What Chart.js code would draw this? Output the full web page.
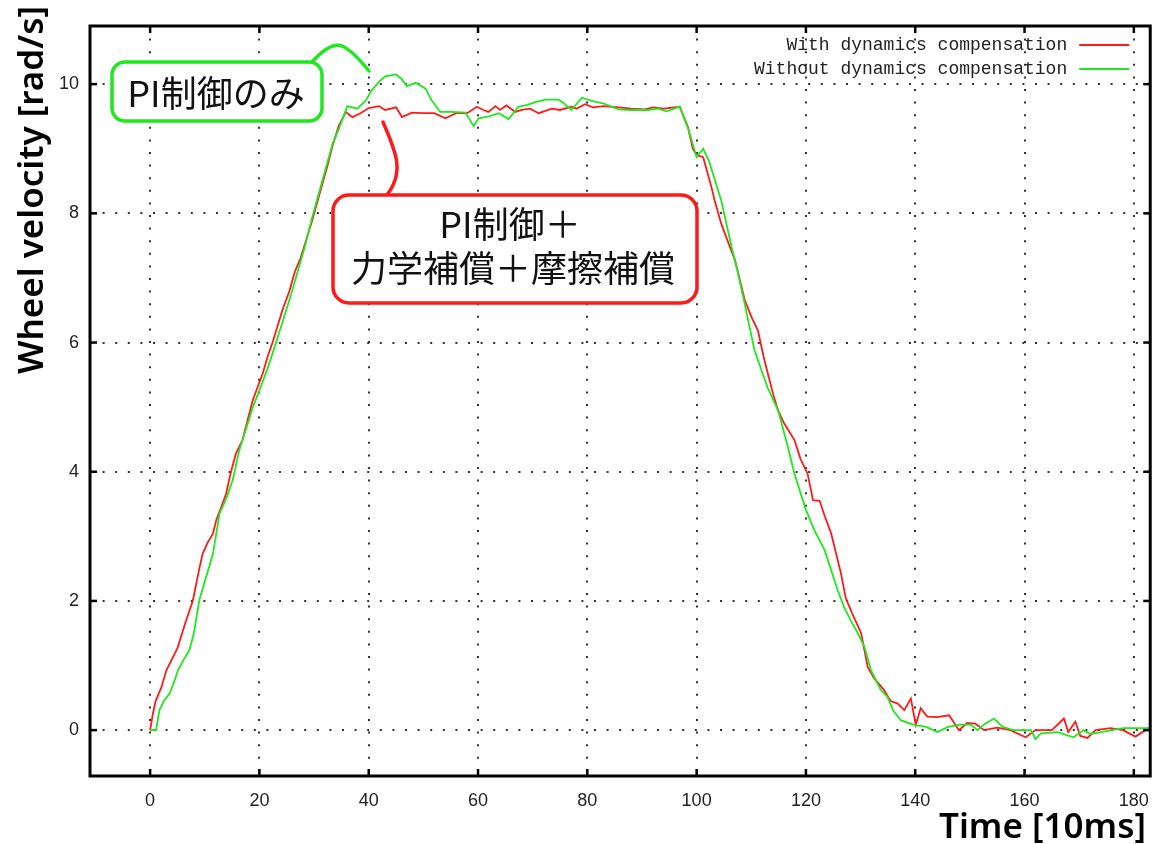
<!DOCTYPE html>
<html>
<head>
<meta charset="utf-8">
<script src="https://cdn.jsdelivr.net/npm/chart.js@4.4.0/dist/chart.umd.min.js"></script>
<style>
  html, body { margin: 0; padding: 0; background: #fff; }
  #wrap { width: 1163px; height: 844px; }
</style>
</head>
<body>
<div id="wrap"><canvas id="chart" width="1163" height="844"></canvas></div>
<script>
// tick values
const xTicks = [0, 20, 40, 60, 80, 100, 120, 140, 160, 180];
const yTicks = [0, 2, 4, 6, 8, 10];

// "With dynamics compensation" (red)
const tRed = [
  0, 0.5, 1, 2, 3, 4, 5, 6.6, 7.8, 9,
  9.6, 10.5, 11.5, 12.1, 13, 13.9, 14.8, 15.7, 16.9, 18,
  18.8, 20.6, 21.5, 22.4, 24.2, 25.5, 26.5, 27.5, 28.6, 29.7,
  30.5, 31.5, 32.5, 33.4, 34.5, 35.8, 37, 38.5, 40, 41.9,
  43, 45, 46.1, 47.9, 50, 52, 54, 56, 58, 59.8,
  61, 61.9, 63.2, 64, 65.2, 66.8, 68, 69.5, 71.1, 73.5,
  75, 77.1, 78, 79.6, 81, 83, 85.7, 88, 90.5, 92,
  94, 96.9, 98.4, 99.3, 100, 101.2, 102.7, 103.3, 104.5, 106,
  107, 108.8, 110, 111.2, 112.4, 114, 114.9, 116, 117.9, 119,
  120.3, 121.3, 122.5, 123.5, 124.6, 126.4, 127.3, 128.5, 130.1, 131.3,
  132.5, 134.3, 135.5, 136.8, 138, 139.2, 140.1, 141, 142.2, 144,
  146.2, 148, 149.5, 151, 152.6, 155, 157.4, 160.2, 162, 165,
  167.2, 168, 169.3, 170.2, 171.5, 173, 175.7, 178, 180.3, 182.1, 183
];
const vRed = [
  0, 0.25, 0.45, 0.65, 0.93, 1.1, 1.27, 1.7, 2.0, 2.5,
  2.73, 2.9, 3.04, 3.25, 3.45, 3.66, 4.0, 4.28, 4.49, 4.85,
  5.11, 5.52, 5.78, 6.0, 6.5, 6.8, 7.1, 7.3, 7.6, 7.9,
  8.15, 8.45, 8.75, 9.05, 9.35, 9.57, 9.49, 9.55, 9.63, 9.66,
  9.6, 9.64, 9.49, 9.56, 9.55, 9.55, 9.47, 9.55, 9.55, 9.65,
  9.6, 9.57, 9.66, 9.6, 9.67, 9.57, 9.6, 9.62, 9.55, 9.62,
  9.6, 9.65, 9.62, 9.69, 9.64, 9.66, 9.64, 9.62, 9.61, 9.64,
  9.62, 9.65, 9.34, 9.0, 8.9, 8.87, 8.41, 8.2, 7.84, 7.5,
  7.28, 6.66, 6.4, 6.19, 5.73, 5.2, 4.95, 4.75, 4.49, 4.2,
  3.97, 3.56, 3.55, 3.3, 3.05, 2.43, 2.04, 1.8, 1.5, 0.98,
  0.8, 0.62, 0.45, 0.41, 0.31, 0.49, 0.08, 0.34, 0.21, 0.2,
  0.23, 0.0, 0.11, 0.1, 0.0, 0.04, 0.0, -0.11, 0.0, 0.0,
  0.18, -0.03, 0.13, -0.09, -0.12, 0.0, 0.03, 0.0, -0.1, 0.0, 0.04
];

// "Without dynamics compensation" (green)
const tGreen = [
  0, 1.1, 1.7, 2.5, 3.6, 4.4, 5.1, 6.2, 7.2, 8,
  9, 10, 11.5, 12.7, 14, 15.1, 16.3, 17.5, 18.8, 20,
  21.5, 23, 24.9, 26, 27, 28.2, 29.7, 31.5, 33.4, 34.5,
  36.1, 37.9, 39.5, 40.5, 41.9, 43, 45, 46, 47, 48.6,
  50.4, 51.5, 53.1, 55, 57.7, 59.2, 60.1, 62, 63.8, 65.6,
  67.4, 69, 70.5, 72.3, 74.7, 75.5, 77.1, 79, 80.8, 83,
  85.7, 88, 91.1, 93, 94.5, 96.9, 98.5, 100, 101.2, 102.3,
  104.5, 106.4, 107.5, 108.8, 109.4, 110.6, 111.2, 113, 114.9, 116.5,
  117.9, 120, 121.5, 123.4, 125.8, 127, 128.2, 129.5, 130.7, 131.9,
  133.7, 134.9, 136, 137.4, 139.8, 142, 144.1, 146, 148, 150.1,
  151.4, 152.8, 154.4, 156, 158, 160, 161.2, 162, 163, 166,
  169, 170.8, 172, 174, 176, 178.1, 180, 183
];
const vGreen = [
  0, 0, 0.31, 0.45, 0.57, 0.75, 0.93, 1.1, 1.24, 1.5,
  2.01, 2.3, 2.73, 3.35, 3.6, 3.87, 4.33, 4.65, 5.0, 5.26,
  5.6, 5.99, 6.5, 6.8, 7.1, 7.45, 7.95, 8.5, 9.08, 9.3,
  9.66, 9.62, 9.75, 9.9, 10.04, 10.12, 10.15, 10.08, 9.97, 10.02,
  9.93, 9.75, 9.57, 9.57, 9.56, 9.35, 9.47, 9.5, 9.55, 9.46,
  9.65, 9.68, 9.72, 9.76, 9.76, 9.72, 9.6, 9.79, 9.74, 9.7,
  9.61, 9.6, 9.6, 9.62, 9.58, 9.65, 9.3, 8.87, 9.0, 8.8,
  8.2, 7.48, 7.1, 6.6, 6.35, 5.88, 5.73, 5.3, 4.95, 4.45,
  3.97, 3.41, 3.1, 2.79, 2.17, 1.9, 1.7, 1.5, 1.29, 0.93,
  0.62, 0.52, 0.3, 0.15, 0.08, 0.05, -0.03, 0.05, 0.08, 0.09,
  0.0, 0.1, 0.18, 0.05, 0.0, 0.0, 0.0, -0.14, -0.05, -0.03,
  -0.11, 0.0, -0.06, -0.03, 0.0, 0.03, 0.03, 0.03
];

const seriesNames = ["With dynamics compensation", "Without dynamics compensation"];
const seriesColors = ["#ff1a1a", "#1ee81e"];

const toPoints = (ts, vs) => ts.map((t, i) => ({ x: t, y: vs[i] }));

// frame, inward ticks, legend, titles and callouts
const overlay = {
  id: "overlay",
  afterDraw(chart) {
    const { ctx, chartArea: a } = chart;
    const xs = chart.scales.x, ys = chart.scales.y;
    const seg = (x1, y1, x2, y2) => { ctx.beginPath(); ctx.moveTo(x1, y1); ctx.lineTo(x2, y2); ctx.stroke(); };
    ctx.save();

    ctx.strokeStyle = "#000";
    ctx.lineWidth = 3;
    ctx.strokeRect(a.left, a.top, a.right - a.left, a.bottom - a.top);
    ctx.lineWidth = 2.5;
    xTicks.forEach(v => {
      const p = xs.getPixelForValue(v);
      seg(p, a.bottom, p, a.bottom - 7);
      seg(p, a.top, p, a.top + 7);
    });
    yTicks.forEach(v => {
      const p = ys.getPixelForValue(v);
      seg(a.left, p, a.left + 7, p);
      seg(a.right, p, a.right - 7, p);
    });

    // legend (gnuplot style: text then sample line)
    ctx.font = "18px 'Liberation Mono'";
    ctx.textAlign = "right";
    ctx.textBaseline = "middle";
    seriesNames.forEach((name, i) => {
      const yy = a.top + 19 + i * 24;
      ctx.fillStyle = "#222";
      ctx.fillText(name, a.right - 83, yy);
      ctx.strokeStyle = seriesColors[i];
      ctx.lineWidth = 2;
      seg(a.right - 71, yy, a.right - 21, yy);
    });

    // axis titles
    ctx.fillStyle = "#000";
    ctx.font = "600 35px 'Noto Sans'";
    ctx.textBaseline = "alphabetic";
    ctx.textAlign = "right";
    ctx.fillText("Time [10ms]", 1146, 838);
    ctx.save();
    ctx.translate(43, 190);
    ctx.rotate(-Math.PI / 2);
    ctx.textAlign = "center";
    ctx.fillText("Wheel velocity [rad/s]", 0, 0);
    ctx.restore();

    // callouts
    const box = (x, y, w, h, r, color) => {
      ctx.beginPath();
      ctx.roundRect(x, y, w, h, r);
      ctx.fillStyle = "#fff";
      ctx.fill();
      ctx.strokeStyle = color;
      ctx.lineWidth = 3.5;
      ctx.stroke();
    };
    ctx.lineCap = "round";

    ctx.strokeStyle = "#1ee81e";
    ctx.lineWidth = 3.5;
    ctx.beginPath();
    ctx.moveTo(312, 62);
    ctx.quadraticCurveTo(330, 42, 342, 46);
    ctx.quadraticCurveTo(352, 50, 369, 71);
    ctx.stroke();
    box(112, 62, 210, 59, 13, "#1ee81e");

    ctx.strokeStyle = "#ff1a1a";
    ctx.beginPath();
    ctx.moveTo(383, 122);
    ctx.bezierCurveTo(395, 150, 406, 172, 386, 196);
    ctx.stroke();
    box(333, 195, 364, 108, 16, "#ff1a1a");

    ctx.fillStyle = "#111";
    ctx.font = "36px 'Noto Sans CJK JP'";
    ctx.textAlign = "center";
    ctx.textBaseline = "middle";
    ctx.fillText("PI制御のみ", 216, 93);
    ctx.fillText("PI制御＋", 510, 224);
    ctx.fillText("力学補償＋摩擦補償", 513, 268);

    ctx.restore();
  }
};

const tickFont = { family: "'Liberation Sans', sans-serif", size: 18 };

new Chart(document.getElementById("chart").getContext("2d"), {
  type: "line",
  data: {
    datasets: [
      {
        label: seriesNames[0],
        data: toPoints(tRed, vRed),
        borderColor: seriesColors[0],
        borderWidth: 1.8,
        pointRadius: 0,
        tension: 0,
        order: 1
      },
      {
        label: seriesNames[1],
        data: toPoints(tGreen, vGreen),
        borderColor: seriesColors[1],
        borderWidth: 1.8,
        pointRadius: 0,
        tension: 0,
        order: 0
      }
    ]
  },
  options: {
    responsive: false,
    animation: false,
    devicePixelRatio: 1,
    layout: { padding: { top: 26, right: 10, left: 0, bottom: 0 } },
    plugins: { legend: { display: false }, tooltip: { enabled: false } },
    scales: {
      x: {
        type: "linear",
        min: -11,
        max: 183,
        afterBuildTicks: s => { s.ticks = xTicks.map(v => ({ value: v })); },
        afterFit: s => { s.height = 68; },
        grid: { color: "#333", lineWidth: 2, drawTicks: false },
        border: { display: false, dash: [2, 10.6] },
        ticks: { padding: 14, font: tickFont, color: "#222", maxRotation: 0, autoSkip: false }
      },
      y: {
        type: "linear",
        min: -0.71,
        max: 10.9,
        afterBuildTicks: s => { s.ticks = yTicks.map(v => ({ value: v })); },
        afterFit: s => { s.width = 90; },
        grid: { color: "#333", lineWidth: 2, drawTicks: false },
        border: { display: false, dash: [2, 10.6] },
        ticks: { padding: 11, font: tickFont, color: "#222", autoSkip: false }
      }
    }
  },
  plugins: [overlay]
});
</script>
</body>
</html>
